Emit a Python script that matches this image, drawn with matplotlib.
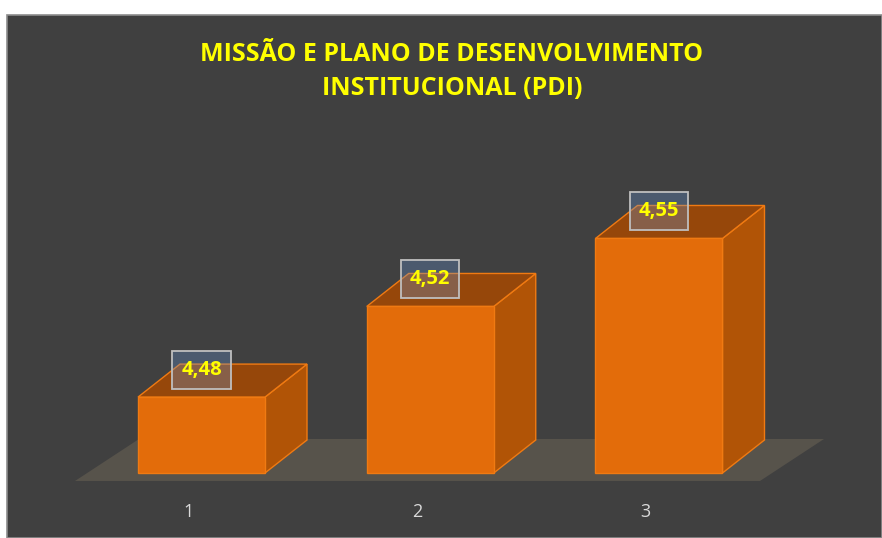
import matplotlib.pyplot as plt
from matplotlib.patches import Polygon, Rectangle

plt.rcParams['font.family'] = ['Open Sans', 'DejaVu Sans']

# dados
categorias = ['1', '2', '3']
valores = [4.48, 4.52, 4.55]
rotulos = ['4,48', '4,52', '4,55']
titulo = 'MISSÃO E PLANO DE DESENVOLVIMENTO\nINSTITUCIONAL (PDI)'

# cores
fundo = '#404040'
frente = '#E36C0A'
lado = '#B15406'
topo = '#96470A'
borda = '#F07A12'
chao = '#57534B'

fig = plt.figure(figsize=(8.82, 5.38), dpi=100, facecolor='white')
fig.patches.append(Rectangle((7/882, 0), 875/882, 523/538, transform=fig.transFigure,
                             facecolor=fundo, edgecolor='#8C8C8C', lw=1.2, zorder=-1))

ax = fig.add_axes([0, 0, 1, 1])
ax.set_xlim(0.1191, 3.9749)
ax.set_ylim(4.41781, 4.65524)
ax.axis('off')

base = 4.4465   # fundo das barras
w = 0.2776      # meia largura
dx, dy = 0.1836, 0.01456  # profundidade 3D

# chao
ax.add_patch(Polygon([(0.447, 4.44297), (3.4415, 4.44297), (3.7213, 4.4615), (0.7268, 4.4615)],
                     closed=True, facecolor=chao, edgecolor='none', zorder=1))

for i, v in enumerate(valores):
    x = i + 1
    x0, x1 = x - w, x + w
    # lado
    ax.add_patch(Polygon([(x1, base), (x1 + dx, base + dy), (x1 + dx, v + dy), (x1, v)],
                         closed=True, facecolor=lado, edgecolor=borda, lw=1, zorder=2))
    # topo
    ax.add_patch(Polygon([(x0, v), (x1, v), (x1 + dx, v + dy), (x0 + dx, v + dy)],
                         closed=True, facecolor=topo, edgecolor=borda, lw=1, zorder=2))
    # frente
    ax.add_patch(Polygon([(x0, base), (x1, base), (x1, v), (x0, v)],
                         closed=True, facecolor=frente, edgecolor=borda, lw=1, zorder=3))
    # rotulo
    ax.annotate(rotulos[i], (x, v), xytext=(0, 19.5), textcoords='offset points',
                ha='center', va='center', fontsize=14.5, fontweight='bold', color='#FFFF00',
                zorder=5,
                bbox=dict(boxstyle='square,pad=0.45', facecolor=(0.40, 0.60, 0.85, 0.3),
                          edgecolor='#BFBFBF', lw=1.3))
    ax.text(x - 0.058, 4.4293, categorias[i], ha='center', va='center',
            fontsize=13, color='#D9D9D9', zorder=5)

fig.text(0.5125, 0.867, titulo, ha='center', va='center', fontsize=18, fontweight='bold',
         color='#FFFF00', linespacing=1.45)

fig.savefig('out.png', dpi=100, facecolor='white')
